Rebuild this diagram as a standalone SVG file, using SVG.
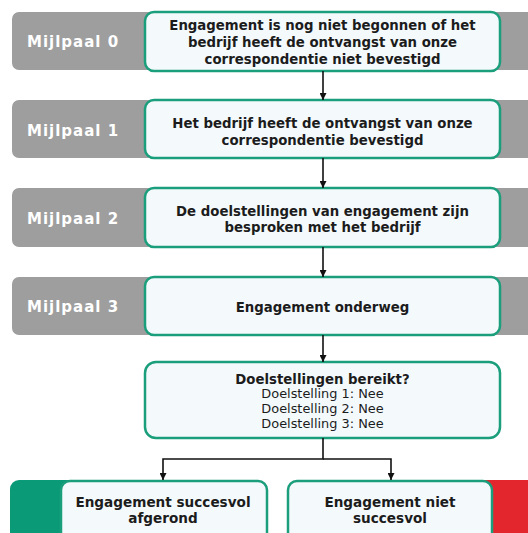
<svg xmlns="http://www.w3.org/2000/svg" width="528" height="533" viewBox="0 0 528 533">
<defs>
<style>
.band{fill:#9e9e9e}
.box{fill:#f4fafc;stroke:#1a9e7c;stroke-width:2.5}
.t{font-family:"DejaVu Sans","Liberation Sans",sans-serif;font-weight:bold;font-size:13.3px;fill:#1c1c1c;text-anchor:middle}
.b{font-size:13.6px}
.s{font-family:"DejaVu Sans","Liberation Sans",sans-serif;font-size:12.9px;fill:#1c1c1c;text-anchor:middle}
.m{font-family:"DejaVu Sans","Liberation Sans",sans-serif;font-weight:bold;font-size:15px;letter-spacing:1px;fill:#ffffff}
.c{fill:none;stroke:#111;stroke-width:1.6}
</style>
<marker id="ah" viewBox="0 0 10 10" refX="10" refY="5" markerWidth="7" markerHeight="7" markerUnits="userSpaceOnUse" orient="auto">
<path d="M0,0 L10,5 L0,10 z" fill="#111"/>
</marker>
</defs>
<rect width="528" height="533" fill="#ffffff"/>
<g id="m0">
<rect class="band" x="12" y="12" width="540" height="58" rx="7"/>
<text class="m" x="27" y="47">Mijlpaal 0</text>
<rect class="box" x="145" y="12" width="355" height="59" rx="9"/>
<text class="t" x="322.5" y="30">Engagement is nog niet begonnen of het</text>
<text class="t" x="322.5" y="47">bedrijf heeft de ontvangst van onze</text>
<text class="t" x="322.5" y="64">correspondentie niet bevestigd</text>
</g>
<g id="m1">
<rect class="band" x="12" y="100" width="540" height="58" rx="7"/>
<text class="m" x="27" y="136">Mijlpaal 1</text>
<rect class="box" x="145" y="100" width="355" height="58" rx="9"/>
<text class="t" x="322.5" y="128">Het bedrijf heeft de ontvangst van onze</text>
<text class="t" x="322.5" y="145">correspondentie bevestigd</text>
</g>
<g id="m2">
<rect class="band" x="12" y="188" width="540" height="59" rx="7"/>
<text class="m" x="27" y="224">Mijlpaal 2</text>
<rect class="box" x="145" y="188" width="355" height="59" rx="9"/>
<text class="t" x="322.5" y="216">De doelstellingen van engagement zijn</text>
<text class="t" x="322.5" y="232">besproken met het bedrijf</text>
</g>
<g id="m3">
<rect class="band" x="12" y="277" width="540" height="58" rx="7"/>
<text class="m" x="27" y="312">Mijlpaal 3</text>
<rect class="box" x="145" y="277" width="355" height="58" rx="9"/>
<text class="t" x="322.5" y="312">Engagement onderweg</text>
</g>
<g id="decision">
<rect class="box" x="145" y="362" width="355" height="76" rx="11"/>
<text class="t" x="322.5" y="384">Doelstellingen bereikt?</text>
<text class="s" x="322.5" y="398">Doelstelling 1: Nee</text>
<text class="s" x="322.5" y="413">Doelstelling 2: Nee</text>
<text class="s" x="322.5" y="428">Doelstelling 3: Nee</text>
</g>
<g id="success">
<rect x="10" y="480" width="90" height="70" rx="9" fill="#0b9a77"/>
<rect class="box" x="61" y="481" width="206" height="70" rx="9"/>
<text class="t b" x="163" y="507">Engagement succesvol</text>
<text class="t b" x="163" y="523">afgerond</text>
</g>
<g id="fail">
<rect x="460" y="480" width="90" height="70" fill="#e3262d"/>
<rect class="box" x="288" y="481" width="204" height="70" rx="9"/>
<text class="t b" x="390" y="507">Engagement niet</text>
<text class="t b" x="390" y="523">succesvol</text>
</g>
<g id="connectors">
<line class="c" x1="323" y1="71" x2="323" y2="100" marker-end="url(#ah)"/>
<line class="c" x1="323" y1="158" x2="323" y2="188" marker-end="url(#ah)"/>
<line class="c" x1="323" y1="247" x2="323" y2="277" marker-end="url(#ah)"/>
<line class="c" x1="323" y1="335" x2="323" y2="362" marker-end="url(#ah)"/>
<polyline class="c" points="323,438 323,459 163,459 163,480" marker-end="url(#ah)"/>
<polyline class="c" points="323,459 391,459 391,480" marker-end="url(#ah)"/>
</g>
</svg>
